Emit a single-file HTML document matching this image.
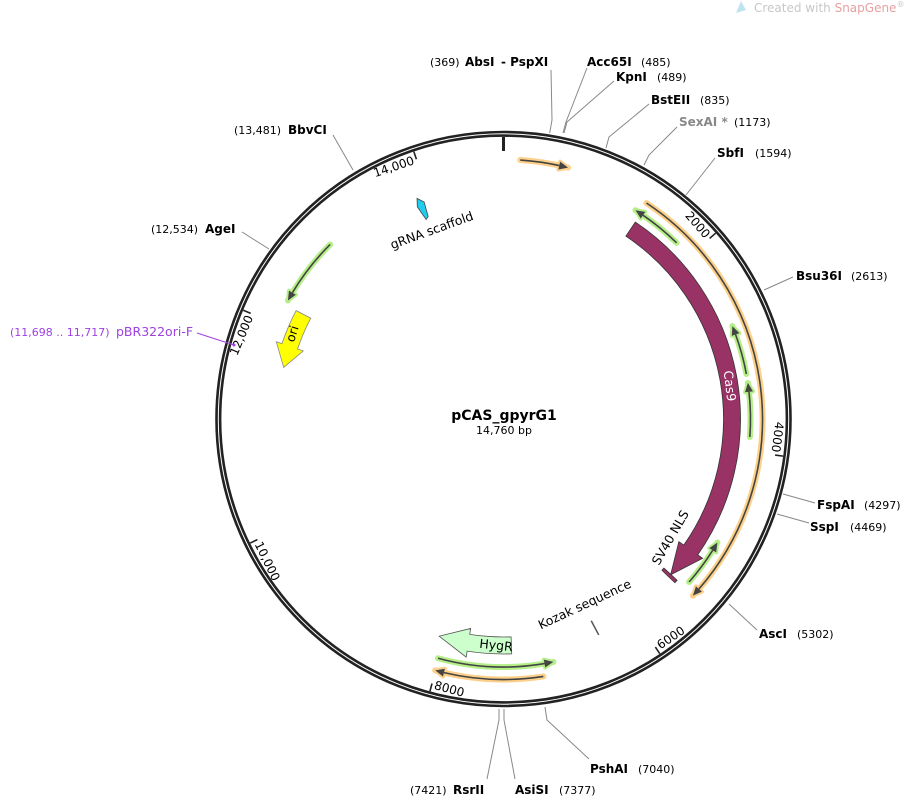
<!DOCTYPE html>
<html><head><meta charset="utf-8">
<style>
html,body{margin:0;padding:0;background:#fff;}
svg{display:block;font-family:"DejaVu Sans","Liberation Sans",sans-serif;}
.b{font-weight:bold;font-size:12px;fill:#000}
.n{font-size:11px;fill:#000}
</style></head><body>
<svg id="s" width="905" height="799" viewBox="0 0 905 799" xmlns="http://www.w3.org/2000/svg">
<text x="754" y="12" font-size="12" fill="#c8c8c8">Created with <tspan fill="#e8a0a0">SnapGene</tspan><tspan font-size="8" dy="-5">®</tspan></text>
<path d="M736 13 L741 1 L746 10 Z" fill="#bfe3f0"/>
<g id="g"></g>
<text x="504" y="420" text-anchor="middle" font-weight="bold" font-size="14">pCAS_gpyrG1</text>
<text x="504" y="434" text-anchor="middle" font-size="11">14,760 bp</text>

<g stroke="#888" stroke-width="1" fill="none">
<polyline points="549.7,133 552,120 551,70"/>
<polyline points="563,133 566,122 587,68"/>
<polyline points="564,133 567,122 614,81"/>
<polyline points="606,148 609,137 649,104"/>
<polyline points="644,165 649,155 677,127"/>
<polyline points="686,195 715,158"/>
<polyline points="764,290 793,277"/>
<polyline points="783,494 815,503"/>
<polyline points="777,514 809,523"/>
<polyline points="729,604 757,630"/>
<polyline points="545,707 547,720 589,759"/>
<polyline points="504,709 504,720 515,779"/>
<polyline points="499,709 499,720 487,779"/>
<polyline points="269,249 242,232"/>
<polyline points="353,170 333,135"/>
</g>
<line x1="197" y1="333" x2="234" y2="345" stroke="#a040e0" stroke-width="1"/>
<circle cx="234" cy="345" r="1.5" fill="#a040e0"/>

<text x="430" y="66" class="n">(369)</text><text x="465" y="66" class="b">AbsI</text><text x="501" y="66" class="b"> - PspXI</text>
<text x="587" y="66" class="b">Acc65I</text><text x="641" y="66" class="n">(485)</text>
<text x="616" y="81" class="b">KpnI</text><text x="657" y="81" class="n">(489)</text>
<text x="651" y="104" class="b">BstEII</text><text x="700" y="104" class="n">(835)</text>
<text x="679" y="126" class="b" style="fill:#888">SexAI *</text><text x="734" y="126" class="n">(1173)</text>
<text x="717" y="157" class="b">SbfI</text><text x="755" y="157" class="n">(1594)</text>
<text x="796" y="280" class="b">Bsu36I</text><text x="851" y="280" class="n">(2613)</text>
<text x="817" y="509" class="b">FspAI</text><text x="864" y="509" class="n">(4297)</text>
<text x="810" y="531" class="b">SspI</text><text x="850" y="531" class="n">(4469)</text>
<text x="759" y="638" class="b">AscI</text><text x="797" y="638" class="n">(5302)</text>
<text x="590" y="773" class="b">PshAI</text><text x="638" y="773" class="n">(7040)</text>
<text x="515" y="794" class="b">AsiSI</text><text x="559" y="794" class="n">(7377)</text>
<text x="410" y="794" class="n">(7421)</text><text x="453" y="794" class="b">RsrII</text>
<text x="151" y="233" class="n">(12,534)</text><text x="205" y="233" class="b">AgeI</text>
<text x="234" y="134" class="n">(13,481)</text><text x="288" y="134" class="b">BbvCI</text>
<text x="10" y="336" font-size="11" fill="#a040e0">(11,698 .. 11,717)</text><text x="116" y="336" font-size="12.5" fill="#a040e0">pBR322ori-F</text>
</svg>
<script>
var cx=503.5,cy=419,NS="http://www.w3.org/2000/svg",G=document.getElementById("g");
function pt(r,a){var t=a*Math.PI/180;return [cx+r*Math.sin(t),cy-r*Math.cos(t)];}
function P(p){return p[0].toFixed(2)+" "+p[1].toFixed(2);}
function arc(r,a1,a2){var l=Math.abs(a2-a1)>180?1:0,s=a2>a1?1:0;return "A"+r+" "+r+" 0 "+l+" "+s+" "+P(pt(r,a2));}
function el(n,at,txt){var e=document.createElementNS(NS,n);for(var k in at)e.setAttribute(k,at[k]);if(txt)e.textContent=txt;G.appendChild(e);return e;}
el("circle",{cx:cx,cy:cy,r:287,fill:"none",stroke:"#222","stroke-width":2.6});
el("circle",{cx:cx,cy:cy,r:283.4,fill:"none",stroke:"#222","stroke-width":2.6});
el("line",{x1:cx,y1:cy-282,x2:cx,y2:cy-268,stroke:"#222","stroke-width":3});
[[2000,"2000"],[4000,"4000"],[6000,"6000"],[8000,"8000"],[10000,"10,000"],[12000,"12,000"],[14000,"14,000"]].forEach(function(t){
 var a=t[0]/14760*360,p1=pt(282,a),p2=pt(274,a);
 el("line",{x1:p1[0],y1:p1[1],x2:p2[0],y2:p2[1],stroke:"#222","stroke-width":1.6});
 var flip=a>100&&a<260,rot,anc,r,aa;
 if(flip){rot=a-180;anc="start";r=270;aa=a-0.6;}else{rot=a>260?a-360:a;anc="end";r=270;aa=a-0.6;}
 var p=pt(r,aa);
 el("text",{x:p[0],y:p[1],"font-size":12,"text-anchor":anc,"dominant-baseline":flip?"hanging":"auto",transform:"rotate("+rot+" "+p[0]+" "+p[1]+")"},t[1]);
});
function thin(r,a1,a2,head,glow){
 var d=9/r*180/Math.PI,b1=a1,b2=a2,tip,base;
 if(head=="end"){tip=a2;base=a2-d;b2=base;}else{tip=a1;base=a1+d;b1=base;}
 var tri="M"+P(pt(r,tip))+"L"+P(pt(r+4,base))+"L"+P(pt(r-4,base))+"Z";
 el("path",{d:"M"+P(pt(r,a1))+arc(r,a1,a2),fill:"none",stroke:glow,"stroke-width":6,"stroke-linecap":"round"});
 el("path",{d:tri,fill:glow,stroke:glow,"stroke-width":4,"stroke-linejoin":"round"});
 el("path",{d:"M"+P(pt(r,b1))+arc(r,b1,b2),fill:"none",stroke:"#444","stroke-width":1.6});
 el("path",{d:tri,fill:"#444"});
}
var OR="#fdd08a",GR="#b6ef8a";
thin(259.5,3.7,14.4,"end",OR);
thin(259,33.5,133,"end",OR);
thin(247,32.3,44.5,"start",GR);
thin(247,67.9,79.5,"start",GR);
thin(247,81.6,94.2,"start",GR);
thin(247,120,131.3,"start",GR);
thin(246,298.8,315.2,"start",GR);
thin(248,168.4,195.3,"start",GR);
thin(260.5,171.2,195.2,"end",OR);
function thick(r1,r2,a1,a2,head,hl,e,fill,stroke){
 var rm=(r1+r2)/2,h=hl/rm*180/Math.PI,d;
 if(head=="end"){var b=a2-h;
  d="M"+P(pt(r2,a1))+arc(r2,a1,b)+"L"+P(pt(r2+e,b))+"L"+P(pt(rm,a2))+"L"+P(pt(r1-e,b))+"L"+P(pt(r1,b))+arc(r1,b,a1)+"Z";
 }else{var b=a1+h;
  d="M"+P(pt(r2,a2))+arc(r2,a2,b)+"L"+P(pt(r2+e,b))+"L"+P(pt(rm,a1))+"L"+P(pt(r1-e,b))+"L"+P(pt(r1,b))+arc(r1,b,a2)+"Z";}
 el("path",{d:d,fill:fill,stroke:stroke,"stroke-width":0.8});
}
thick(220,237,33.8,133,"end",32,6,"#993366","#333");
thick(218,235,178,196.5,"end",30,6,"#ccffcc","#555");
thick(217.5,234,283.2,297.6,"start",22,6,"#ffff00","#888");
(function(){var d="M"+P(pt(237,338.6))+"L"+P(pt(231,339.9))+"L"+P(pt(216,339.6))+"L"+P(pt(214,338.8))+"L"+P(pt(229,337.9))+"Z";
 el("path",{d:d,fill:"#22ccee",stroke:"#444","stroke-width":0.8});})();
thick(219,237,132.9,133.7,"end",0.1,0,"#993366","#333");
var k1=pt(220,156.5),k2=pt(236,156.2);
el("line",{x1:k1[0],y1:k1[1],x2:k2[0],y2:k2[1],stroke:"#555","stroke-width":1.5});
function lab(x,y,rot,t,fill){el("text",{x:x,y:y,"font-size":12.5,fill:fill||"#000","text-anchor":"middle","dominant-baseline":"middle",transform:"rotate("+rot+" "+x+" "+y+")"},t);}
lab(729,386,83,"Cas9","#fff");
lab(671,538,-60,"SV40 NLS");
lab(585,605,-25,"Kozak sequence");
lab(496,646,6,"HygR");
lab(293,334,-72,"ori");
lab(432,231,-20,"gRNA scaffold");
</script>
</body></html>
